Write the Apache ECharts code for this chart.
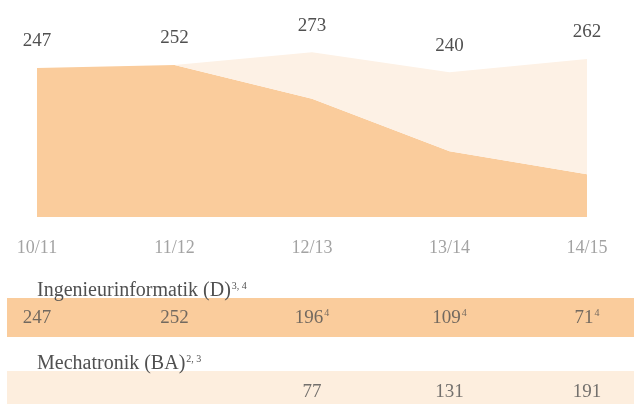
<!DOCTYPE html>
<html>
<head>
<meta charset="utf-8">
<script src="https://cdn.jsdelivr.net/npm/echarts@6/dist/echarts.min.js"></script>
<style>
html, body { margin: 0; padding: 0; background: #fff; }
#main { width: 634px; height: 404px; }
</style>
</head>
<body>
<div id="main"></div>
<script>
// Studienjahre und Studierendenzahlen
var years = ['10/11', '11/12', '12/13', '13/14', '14/15'];
var ingenieur = [247, 252, 196, 109, 71];
var ingenieurNote = ['', '', '4', '4', '4'];
var mechatronik = [0, 0, 77, 131, 191];
var mechatronikShown = [null, null, 77, 131, 191];
var rows = ['Ingenieurinformatik', 'Mechatronik'];

var serif = '"Liberation Serif", "DejaVu Serif", serif';
var dark = '#facc9c';
var light = '#fdf1e5';
var ink = '#505050';

var chart = echarts.init(document.getElementById('main'));

var totals = ingenieur.map(function (v, i) { return v + mechatronik[i]; });

var supStyle = { fontSize: 10, fontFamily: serif, fill: ink, verticalAlign: 'top', padding: [0, 0, 9, 1] };

var option = {
	backgroundColor: '#ffffff',
	animation: false,
	grid: [
		{ left: 37, right: 47, top: 36, height: 181 },
		// Tabelle: Zeilenmitten bei 318 und 392
		{ left: 37, right: 47, top: 318, height: 74 }
	],
	xAxis: [{
		type: 'category',
		gridIndex: 0,
		data: years,
		boundaryGap: false,
		axisLine: { show: false },
		axisTick: { show: false },
		axisLabel: { color: '#a3a3a3', fontFamily: serif, fontSize: 18, margin: 22 }
	}, {
		type: 'category',
		gridIndex: 1,
		data: years,
		boundaryGap: false,
		show: false
	}],
	yAxis: [{
		type: 'value',
		gridIndex: 0,
		min: 0,
		max: 300,
		show: false,
		splitLine: { show: false }
	}, {
		type: 'category',
		gridIndex: 1,
		data: rows,
		inverse: true,
		boundaryGap: false,
		show: false
	}],
	graphic: [
		{ type: 'rect', z: 0, shape: { x: 7, y: 298, width: 627, height: 39 }, style: { fill: dark } },
		{ type: 'rect', z: 0, shape: { x: 7, y: 371, width: 627, height: 39 }, style: { fill: '#fdeede' } },
		{
			type: 'text', z: 5, x: 37, y: 291,
			style: {
				text: 'Ingenieurinformatik (D){s|3, 4}',
				font: '20px ' + serif, fill: ink, verticalAlign: 'middle',
				rich: { s: supStyle }
			}
		},
		{
			type: 'text', z: 5, x: 37, y: 364,
			style: {
				text: 'Mechatronik (BA){s|2, 3}',
				font: '20px ' + serif, fill: ink, verticalAlign: 'middle',
				rich: { s: supStyle }
			}
		}
	],
	series: [{
		name: 'Ingenieurinformatik',
		type: 'line',
		stack: 'summe',
		xAxisIndex: 0,
		yAxisIndex: 0,
		symbol: 'none',
		lineStyle: { width: 0 },
		areaStyle: { color: dark, opacity: 1 },
		data: ingenieur
	}, {
		name: 'Mechatronik',
		type: 'line',
		stack: 'summe',
		xAxisIndex: 0,
		yAxisIndex: 0,
		symbol: 'circle',
		symbolSize: 0,
		showSymbol: true,
		lineStyle: { width: 0 },
		areaStyle: { color: light, opacity: 1 },
		label: {
			show: true,
			position: 'top',
			distance: 17,
			color: ink,
			fontFamily: serif,
			fontSize: 19,
			formatter: function (p) { return totals[p.dataIndex]; }
		},
		data: mechatronik
	}, {
		// Tabellenzeile Ingenieurinformatik
		type: 'scatter',
		xAxisIndex: 1,
		yAxisIndex: 1,
		symbolSize: 0,
		label: {
			show: true,
			position: 'inside',
			color: ink,
			fontFamily: serif,
			fontSize: 19,
			formatter: function (p) {
				var n = ingenieurNote[p.dataIndex];
				return ingenieur[p.dataIndex] + (n ? '{s|' + n + '}' : '');
			},
			rich: { s: { fontSize: 10, fontFamily: serif, color: ink, verticalAlign: 'top', padding: [0, 0, 9, 1] } }
		},
		data: ingenieur.map(function (v, i) { return [i, rows[0]]; })
	}, {
		// Tabellenzeile Mechatronik, beginnt erst bei 12/13
		type: 'scatter',
		xAxisIndex: 1,
		yAxisIndex: 1,
		symbolSize: 0,
		label: {
			show: true,
			position: 'inside',
			color: ink,
			fontFamily: serif,
			fontSize: 19,
			formatter: function (p) { return mechatronikShown[p.data.idx]; }
		},
		data: mechatronikShown
			.map(function (v, i) { return v == null ? null : { value: [i, rows[1]], idx: i }; })
			.filter(function (d) { return d; })
	}]
};

chart.setOption(option);
</script>
</body>
</html>
